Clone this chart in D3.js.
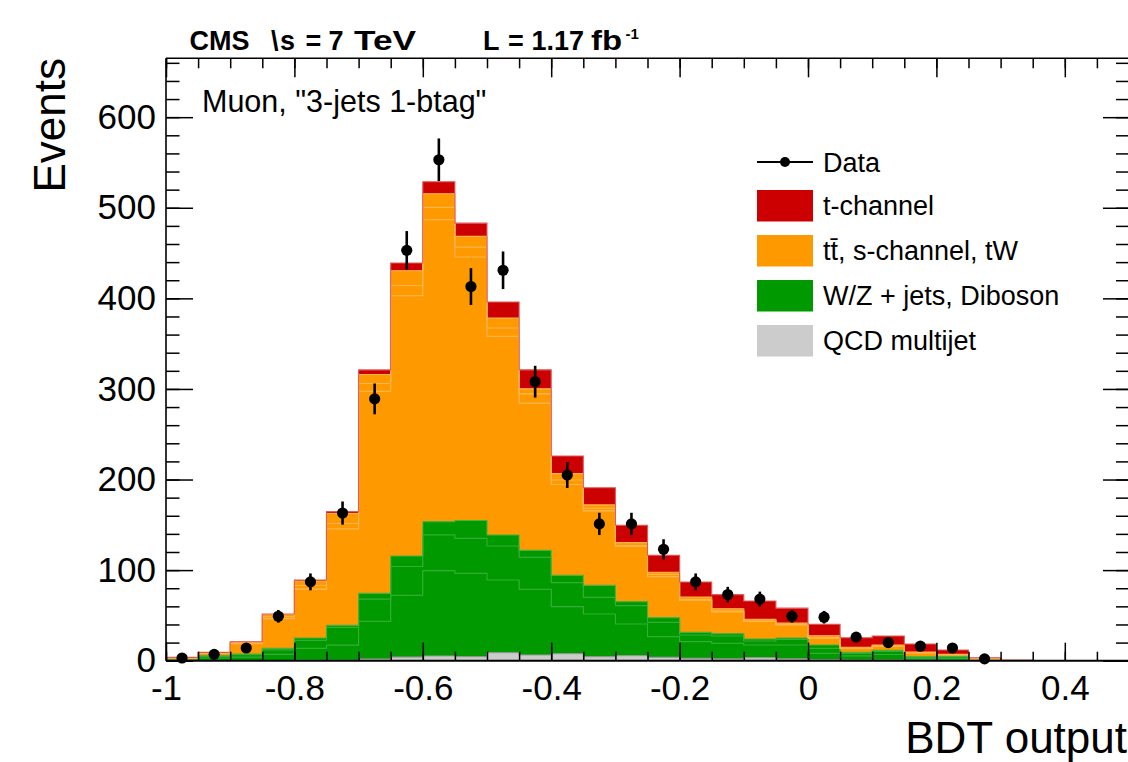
<!DOCTYPE html>
<html><head><meta charset="utf-8">
<script src="https://cdn.jsdelivr.net/npm/d3@7"></script>
<style>
html,body{margin:0;padding:0;background:#fff;}
svg{display:block;font-family:"Liberation Sans",Arial,Helvetica,sans-serif;}
</style></head><body>
<svg id="c" width="1128" height="762"></svg>
<script>
// ---------------- data ----------------
const binLow = [-1.00,-0.95,-0.90,-0.85,-0.80,-0.75,-0.70,-0.65,-0.60,-0.55,-0.50,-0.45,-0.40,-0.35,-0.30,-0.25,-0.20,-0.15,-0.10,-0.05,0.00,0.05,0.10,0.15,0.20,0.25,0.30,0.35,0.40,0.45];
const qcd      = [0,0,0,0,0.5,0.5,1.9,4,5.2,4.4,8.8,6.3,7.7,4.4,5.5,3.7,2.6,2,3.3,2,1,0.8,0.8,0.5,0.5,0,0,0,0,0];
const wzLow    = [0.6,3,4,7,13.2,16.7,41.6,68.2,94.2,92.1,80.3,72.6,52,47.2,35,22.8,18.4,17.2,14,15.3,7.2,4.5,6,2,2.3,0.5,0.1,0,0,0];
const wzMid    = [0.3,2,2.7,4.9,8.9,19.6,24.5,31.8,39.5,38.7,37.6,35.3,26.5,18.4,20.3,15.9,7.4,8.1,4.5,6.2,5.5,3,3.5,1.5,1.6,0.4,0,0,0,0];
const wzTop    = [0.1,0.5,0.7,1.8,2.4,2.2,6.4,11.6,14.6,19.5,12.1,7.8,8.1,13.3,4.4,5.1,2.9,2.6,2.2,1.5,3.6,1,1.2,0.4,0.4,0.1,0,0,0,0];
const ttbar    = [2.1,2.9,11.3,32.8,54,106.5,223.1,287.2,333.3,290.9,219.2,162.3,100.2,82.1,60.8,45.3,35.5,24,19.4,14.5,7.5,4.1,4.4,4.1,1.6,0.9,0.2,0,0,0];
const tW       = [0.2,0.3,0.8,2,4,6,8.5,11.4,13.6,11,9.2,10.3,5,2.9,1,2.6,1,1,0.5,0.5,0.5,0.4,0.4,0.3,0.2,0.1,0,0,0,0];
const sChannel = [0.2,0.3,1,2.5,5,11,10,16.2,15.1,11.8,11,5.5,7,3.7,3.4,2.2,2.6,2.5,1.8,1.5,2.2,1,1,0.8,0.4,0.2,0,0,0,0];
const tChannel = [0.2,0.2,0.5,0.6,1.1,2.1,5,8.6,13.3,14.6,17.7,21,19.5,19,19.1,18.8,16.5,15.5,20.2,16.5,12.8,10.6,10,8.8,4.8,1.1,0.3,0,0,0];
const dataCounts = [3,7,14,49,87,163,289,453,553,413,431,308,205,151,151,123,87,73,68,49,48,26,20,16,14,2,null,null,null,null];

const xTickValues = [-1,-0.8,-0.6,-0.4,-0.2,0,0.2,0.4];
const yTickValues = [0,100,200,300,400,500,600];
const legendLabels = ["Data","t-channel","tt\u0304, s-channel, tW","W/Z + jets, Diboson","QCD multijet"];

// ---------------- layout ----------------
const svg = d3.select("#c");
const X0 = 166, X1 = 1129, Y0 = 660.7, Y1 = 58.3;
const x = d3.scaleLinear().domain([-1, 0.5]).range([X0, X1]);
const y = d3.scaleLinear().domain([0, 665]).range([Y0, Y1]);

const keys = ["qcd","wzLow","wzMid","wzTop","ttbar","tW","sChannel","tChannel"];
const src = {qcd,wzLow,wzMid,wzTop,ttbar,tW,sChannel,tChannel};
const rows = binLow.map((b,i)=>{const r={b}; keys.forEach(k=>r[k]=src[k][i]); return r;});
const stacked = d3.stack().keys(keys)(rows);

const style = {
  qcd:{fill:"#cccccc",stroke:"#9a9a9a"},
  wzLow:{fill:"#009900",stroke:"#36ad36"},
  wzMid:{fill:"#009900",stroke:"#36ad36"},
  wzTop:{fill:"#009900",stroke:"#40b440"},
  ttbar:{fill:"#ff9900",stroke:"#ffb54f"},
  tW:{fill:"#ff9900",stroke:"#ffb54f"},
  sChannel:{fill:"#ff9900",stroke:"#ffb54f"},
  tChannel:{fill:"#cc0000",stroke:"#e05a5a"}
};

svg.append("defs").append("clipPath").attr("id","plotclip")
  .append("rect").attr("x",X0).attr("y",Y1).attr("width",X1-X0).attr("height",Y0-Y1);

const hist = svg.append("g").attr("clip-path","url(#plotclip)");
const xEnd = x.domain()[1];
const area = d3.area().curve(d3.curveStepAfter).x(d=>x(d.x)).y0(d=>y(d.y0)).y1(d=>y(d.y1));
const line = d3.line().curve(d3.curveStepAfter).x(d=>x(d.x)).y(d=>y(d.y1));
const layerPts = s => {
  const p = s.map((d,i)=>({x:binLow[i], y0:d[0], y1:d[1]}));
  const last = p[p.length-1];
  p.push({x:xEnd, y0:last.y0, y1:last.y1});
  return p;
};
stacked.forEach(s=>{
  hist.append("path").attr("d",area(layerPts(s))).attr("fill",style[s.key].fill).attr("stroke","none");
});
stacked.forEach(s=>{
  hist.append("path").attr("d",line(layerPts(s))).attr("fill","none")
    .attr("stroke",style[s.key].stroke).attr("stroke-width",1.1);
});

// ---------------- axes ----------------
const fmt = d => { const v = +(+d).toFixed(1); return (Math.abs(v)<1e-9? "0" : String(v)); };
const minorX = x.ticks(30);
const minorY = y.ticks(33);

function styleAxis(g){
  g.select(".domain").remove();
  g.selectAll(".tick line").attr("stroke","#000").attr("stroke-width",1.5);
  g.selectAll(".tick text").attr("fill","#000").attr("font-size",35)
    .attr("font-family","'Liberation Sans',Arial,Helvetica,sans-serif");
}
// bottom
svg.append("g").attr("transform",`translate(0,${Y0})`)
  .call(d3.axisBottom(x).tickValues(minorX).tickSize(-9).tickSizeOuter(0).tickFormat("")).call(styleAxis);
svg.append("g").attr("transform",`translate(0,${Y0})`)
  .call(d3.axisBottom(x).tickValues(xTickValues).tickSize(-18).tickSizeOuter(0).tickPadding(14).tickFormat(fmt)).call(styleAxis);
// top
svg.append("g").attr("transform",`translate(0,${Y1})`)
  .call(d3.axisTop(x).tickValues(minorX).tickSize(-10).tickSizeOuter(0).tickFormat("")).call(styleAxis);
svg.append("g").attr("transform",`translate(0,${Y1})`)
  .call(d3.axisTop(x).tickValues(xTickValues).tickSize(-19).tickSizeOuter(0).tickFormat("")).call(styleAxis);
// left
svg.append("g").attr("transform",`translate(${X0},0)`)
  .call(d3.axisLeft(y).tickValues(minorY).tickSize(-13.5).tickSizeOuter(0).tickFormat("")).call(styleAxis);
svg.append("g").attr("transform",`translate(${X0},0)`)
  .call(d3.axisLeft(y).tickValues(yTickValues).tickSize(-27).tickSizeOuter(0).tickPadding(10).tickFormat(d3.format("d"))).call(styleAxis);
// right
svg.append("g").attr("transform",`translate(${X1},0)`)
  .call(d3.axisRight(y).tickValues(minorY).tickSize(-13).tickSizeOuter(0).tickFormat("")).call(styleAxis);
svg.append("g").attr("transform",`translate(${X1},0)`)
  .call(d3.axisRight(y).tickValues(yTickValues).tickSize(-26).tickSizeOuter(0).tickFormat("")).call(styleAxis);

// frame
svg.append("line").attr("x1",X0).attr("x2",X1).attr("y1",Y1).attr("y2",Y1).attr("stroke","#000").attr("stroke-width",1.6);
svg.append("line").attr("x1",X0).attr("x2",X0).attr("y1",Y1).attr("y2",Y0).attr("stroke","#000").attr("stroke-width",1.6);
svg.append("line").attr("x1",X1).attr("x2",X1).attr("y1",Y1).attr("y2",Y0).attr("stroke","#000").attr("stroke-width",1.6);
svg.append("line").attr("x1",X0).attr("x2",X1).attr("y1",Y0).attr("y2",Y0).attr("stroke","#000").attr("stroke-width",2);

// ---------------- data points ----------------
const pts = dataCounts.map((v,i)=>({c:binLow[i]+0.025, v})).filter(d=>d.v!==null);
const dg = svg.append("g");
dg.selectAll("line.err").data(pts).join("line").attr("class","err")
  .attr("x1",d=>x(d.c)).attr("x2",d=>x(d.c))
  .attr("y1",d=>y(d.v+Math.sqrt(d.v))).attr("y2",d=>y(Math.max(0,d.v-Math.sqrt(d.v))))
  .attr("stroke","#000").attr("stroke-width",2.6);
dg.selectAll("circle").data(pts).join("circle")
  .attr("cx",d=>x(d.c)).attr("cy",d=>y(d.v)).attr("r",5.6).attr("fill","#000");

// ---------------- texts ----------------
svg.append("text").attr("transform","translate(65,58) rotate(-90)").attr("text-anchor","end")
  .attr("font-size",44).attr("fill","#000").text("Events");
svg.append("text").attr("x",1127).attr("y",753).attr("text-anchor","end")
  .attr("font-size",44).attr("fill","#000").text("BDT output");
svg.append("text").attr("x",202).attr("y",112).attr("font-size",30.5).attr("fill","#000")
  .text('Muon, "3-jets 1-btag"');

const title = svg.append("text").attr("y",50).attr("font-size",27).attr("font-weight","bold").attr("fill","#000");
[["CMS",189.5,null],["\\",271,null],["s",280,null],["=",305.5,null],["7",328.5,null],["TeV",354,62],
 ["L",483,null],["=",508,null],["1.17",531.5,null],["fb",591,31]]
  .forEach(([t,px,len])=>{
    const ts = title.append("tspan").attr("x",px).text(t);
    if(len) ts.attr("textLength",len).attr("lengthAdjust","spacingAndGlyphs");
  });
svg.append("text").attr("x",625.5).attr("y",38.5).attr("font-size",15).attr("font-weight","bold").attr("fill","#000").text("-1");

// ---------------- legend ----------------
const leg = svg.append("g");
const legBoxX = 757, legBoxW = 56, legTextX = 823;
leg.append("line").attr("x1",legBoxX).attr("x2",legBoxX+legBoxW).attr("y1",162).attr("y2",162).attr("stroke","#000").attr("stroke-width",2);
leg.append("circle").attr("cx",legBoxX+legBoxW/2).attr("cy",162).attr("r",5).attr("fill","#000");
leg.append("text").attr("x",legTextX).attr("y",171.5).attr("font-size",27).attr("fill","#000").text(legendLabels[0]);
const legFills = [style.tChannel.fill, style.ttbar.fill, style.wzLow.fill, style.qcd.fill];
legFills.forEach((f,i)=>{
  const top = 190 + i*45;
  leg.append("rect").attr("x",legBoxX).attr("y",top).attr("width",legBoxW).attr("height",31.5).attr("fill",f);
  leg.append("text").attr("x",legTextX).attr("y",top+25).attr("font-size",27).attr("fill","#000").text(legendLabels[i+1]);
});
</script>
</body></html>
